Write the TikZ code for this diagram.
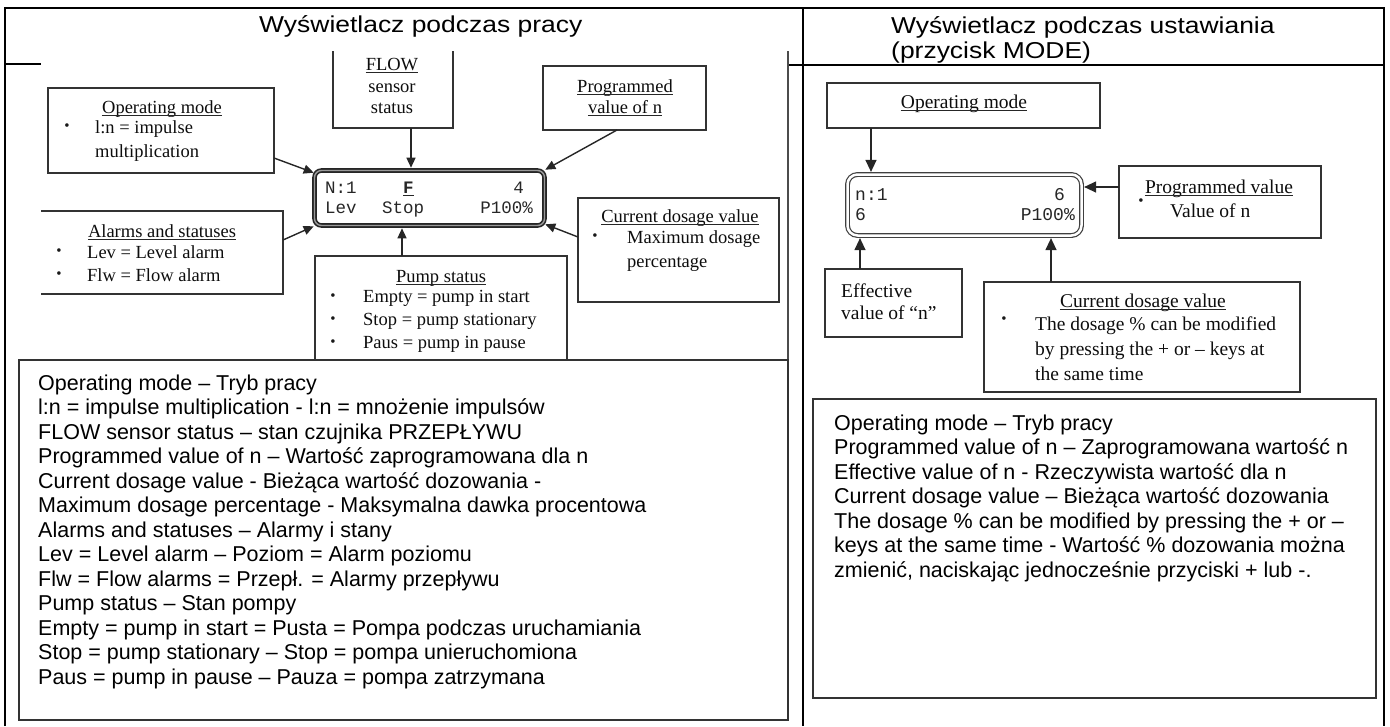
\documentclass[tikz,border=0pt]{standalone}
\usepackage{fontspec}
\setmainfont{Liberation Serif}
\newfontfamily\sansf{Liberation Sans}
\newfontfamily\titlef[FakeStretch=1.15]{Liberation Sans}
\newfontfamily\monof{Liberation Mono}
\usetikzlibrary{arrows.meta,calc}
\begin{document}
\begin{tikzpicture}[x=1pt,y=-1pt,
  frameline/.style={line width=2pt, draw=black},
  thinframe/.style={line width=1.2pt, draw=black!70},
  box/.style={draw=black!80, line width=1.3pt, inner sep=0pt, outer sep=0pt},
  nobox/.style={inner sep=0pt, outer sep=0pt},
  bl/.style={draw=black!80, line width=1.3pt},
  arrL/.style={line width=1.4pt, draw=black!85, -{Triangle[length=10pt,width=9pt]}},
  arrR/.style={line width=1.3pt, draw=black!85, -{Triangle[length=12pt,width=11pt]}},
  lcdl/.style={draw=black!85, line width=1.6pt, double=black!40, double distance=1.4pt, rounded corners=7pt, inner sep=0pt},
  lcdr/.style={draw=black!75, line width=1.2pt, double=white, double distance=2.5pt, rounded corners=10pt, inner sep=0pt},
  sl/.style={inner sep=0pt, anchor=base, font=\fontsize{18.5pt}{22pt}\selectfont, text=black!95},
  slw/.style={sl, anchor=base west},
  sr/.style={sl, font=\fontsize{19.5pt}{23pt}\selectfont},
  srw/.style={sr, anchor=base west},
  bul/.style={inner sep=0pt, anchor=center, font=\fontsize{15pt}{15pt}\selectfont, text=black!90},
  monol/.style={inner sep=0pt, font=\monof\fontsize{17.5pt}{20pt}\selectfont, text=black!85},
  monor/.style={inner sep=0pt, font=\monof\fontsize{18pt}{20pt}\selectfont, text=black!85},
  leg/.style={inner sep=0pt, anchor=base west, font=\sansf\fontsize{21.5pt}{24pt}\selectfont},
  ttl/.style={inner sep=0pt, anchor=base west, font=\titlef\fontsize{23pt}{27pt}\selectfont},
  ulline/.style={line width=1.3pt, draw=black!85}
]
\useasboundingbox (0,0) rectangle (1390,726);

% table frame
\draw[frameline] (5,726) -- (5,8) -- (1384,8) -- (1384,726);
\draw[frameline] (803,8) -- (803,726);
\draw[frameline] (789,65) -- (1384,65);
\draw[frameline] (5,64) -- (41,64);

% titles
\node[ttl] (ttlL) at (259,32) {Wyświetlacz podczas pracy};
\node[ttl] (ttlR1) at (891,33) {Wyświetlacz podczas ustawiania};
\node[ttl] (ttlR2) at (891,58) {(przycisk MODE)};

% ---------------- left diagram ----------------
\node[box, minimum width=226pt, minimum height=85pt] (opmL) at (161,130.5) {};
\node[nobox, minimum width=120pt, minimum height=77pt] (flowL) at (393,89.5) {};
\draw[bl] (flowL.north west) -- (flowL.south west) -- (flowL.south east) -- (flowL.north east);
\node[box, minimum width=163pt, minimum height=64pt] (progL) at (624.5,98) {};
\node[lcdl, minimum width=230pt, minimum height=55pt] (lcdL) at (429.5,198) {};
\node[nobox, minimum width=242pt, minimum height=83pt] (alarmL) at (162,252.5) {};
\draw[bl] (alarmL.north west) -- (alarmL.north east) -- (alarmL.south east) -- (alarmL.south west);
\node[box, minimum width=201pt, minimum height=104pt] (curL) at (678.5,250) {};
\node[nobox, minimum width=252pt, minimum height=104pt] (pumpL) at (441,308) {};
\draw[bl] (pumpL.south west) -- (pumpL.north west) -- (pumpL.north east) -- (pumpL.south east);
\draw[thinframe] (788,51) -- (788,360);
\node[box, fill=white, minimum width=769pt, minimum height=360pt] (legL) at (403.5,540) {};

% texts in left boxes
\node[sl] (uOpL) at (162,113) {Operating mode};
\node[bul] (bOpL) at (67,127) {•};
\node[slw] (tOpL1) at (95,133) {l:n = impulse};
\node[slw] (tOpL2) at (95,157) {multiplication};

\node[sl] (uFlow) at (392,70) {FLOW};
\node[sl] (tFlow1) at (392,92) {sensor};
\node[sl] (tFlow2) at (392,113) {status};

\node[sl] (uProg1) at (625,92) {Programmed};
\node[sl] (uProg2) at (625,113) {value of n};

\node[monol, anchor=base west] (lcdN) at (325,193) {N:1};
\node[monol, anchor=base west] (uF) at (403,193) {\bfseries F};
\node[monol, anchor=base east] (lcd4) at (524,193) {4};
\node[monol, anchor=base west] (lcdLev) at (325,213) {Lev};
\node[monol, anchor=base west] (lcdStop) at (382,213) {Stop};
\node[monol, anchor=base east] (lcdP) at (533,213) {P100\%};

\node[sl] (uAlarm) at (162,237) {Alarms and statuses};
\node[bul] (bAl1) at (59,252) {•};
\node[bul] (bAl2) at (59,275) {•};
\node[slw] (tAl1) at (87,258) {Lev = Level alarm};
\node[slw] (tAl2) at (87,281) {Flw = Flow alarm};

\node[sl] (uCurL) at (680,222) {Current dosage value};
\node[bul] (bCurL) at (595,237) {•};
\node[slw] (tCurL1) at (627,243) {Maximum dosage};
\node[slw] (tCurL2) at (627,267) {percentage};

\node[sl] (uPump) at (441,282) {Pump status};
\node[bul] (bP1) at (333,297) {•};
\node[bul] (bP2) at (333,320) {•};
\node[bul] (bP3) at (333,343) {•};
\node[slw] (tP1) at (363,302) {Empty = pump in start};
\node[slw] (tP2) at (363,325) {Stop = pump stationary};
\node[slw] (tP3) at (363,348) {Paus = pump in pause};

% arrows left
\draw[arrL, shorten >=2pt] ([xshift=18pt]flowL.south) -- ([xshift=18pt]flowL.south |- lcdL.north);
\draw[arrL] ([yshift=-27.5pt]opmL.east) -- ([yshift=-3pt]lcdL.north west);
\draw[arrL] ([xshift=-7.5pt]progL.south) -- (lcdL.north east);
\draw[arrL] ([yshift=12.5pt]alarmL.east) -- (lcdL.south west);
\draw[arrL] ([yshift=13pt]curL.west) -- ([yshift=2pt]lcdL.south east);
\draw[arrL, shorten >=2pt] ([xshift=-39pt]pumpL.north) -- ([xshift=-39pt]pumpL.north |- lcdL.south);

% legend left
\foreach \t [count=\i] in {
  {Operating mode – Tryb pracy},
  {l:n = impulse multiplication - l:n = mnożenie impulsów},
  {FLOW sensor status – stan czujnika PRZEPŁYWU},
  {Programmed value of n – Wartość zaprogramowana dla n},
  {Current dosage value - Bieżąca wartość dozowania -},
  {Maximum dosage percentage - Maksymalna dawka procentowa},
  {Alarms and statuses – Alarmy i stany},
  {Lev = Level alarm – Poziom = Alarm poziomu},
  {Flw = Flow alarms = Przepł. = Alarmy przepływu},
  {Pump status – Stan pompy},
  {Empty = pump in start = Pusta = Pompa podczas uruchamiania},
  {Stop = pump stationary – Stop = pompa unieruchomiona},
  {Paus = pump in pause – Pauza = pompa zatrzymana}}
  \node[leg] (lL\i) at (38,{365.5+24.5*\i}) {\t};

% ---------------- right diagram ----------------
\node[box, minimum width=273pt, minimum height=45pt] (opmR) at (963.5,105.5) {};
\node[lcdr, minimum width=234pt, minimum height=61pt] (lcdR) at (964.5,205) {};
\node[box, minimum width=202pt, minimum height=72pt] (progR) at (1220,202) {};
\node[box, minimum width=137pt, minimum height=68pt] (effR) at (893.5,303) {};
\node[box, minimum width=316pt, minimum height=110pt] (curR) at (1142,337) {};
\node[box, minimum width=563pt, minimum height=299pt] (legR) at (1094.5,548.5) {};

\node[sr] (uOpR) at (964,108) {Operating mode};

\node[monor, anchor=base west] (rN) at (855,200) {n:1};
\node[monor, anchor=base east] (r6a) at (1065,200) {6};
\node[monor, anchor=base west] (r6b) at (855,220) {6};
\node[monor, anchor=base east] (rP) at (1075,220) {P100\%};

\node[sr] (uProgR) at (1219,193) {Programmed value};
\node[bul] (bProgR) at (1141,202) {•};
\node[srw] (tProgR) at (1170,217) {Value of n};

\node[srw] (tEff1) at (841,297) {Effective};
\node[srw] (tEff2) at (841,319) {value of “n”};

\node[sr] (uCurR) at (1143,307) {Current dosage value};
\node[bul] (bCurR) at (1004,320) {•};
\node[srw] (tCurR1) at (1035,330) {The dosage \% can be modified};
\node[srw] (tCurR2) at (1035,355) {by pressing the + or – keys at};
\node[srw] (tCurR3) at (1035,380) {the same time};

% arrows right
\draw[arrR, shorten >=2pt] ([xshift=-92.5pt]opmR.south) -- ([xshift=-92.5pt]opmR.south |- lcdR.north);
\draw[arrR, shorten >=2pt] ([yshift=15pt]progR.west) -- ([yshift=15pt]progR.west -| lcdR.east);
\draw[arrR, shorten >=2pt] ([xshift=-33.5pt]effR.north) -- ([xshift=-33.5pt]effR.north |- lcdR.south);
\draw[arrR, shorten >=2pt] ([xshift=-91pt]curR.north) -- ([xshift=-91pt]curR.north |- lcdR.south);

% legend right
\foreach \t [count=\i] in {
  {Operating mode – Tryb pracy},
  {Programmed value of n – Zaprogramowana wartość n},
  {Effective value of n - Rzeczywista wartość dla n},
  {Current dosage value – Bieżąca wartość dozowania},
  {The dosage \% can be modified by pressing the + or –},
  {keys at the same time - Wartość \% dozowania można},
  {zmienić, naciskając jednocześnie przyciski + lub -.}}
  \node[leg] (lR\i) at (834,{405.5+24.5*\i}) {\t};

% underlines
\foreach \n in {uOpL,uFlow,uProg1,uProg2,uAlarm,uCurL,uPump,uOpR,uProgR,uCurR}
  \draw[ulline] ([yshift=-2.5pt]\n.base west) -- ([yshift=-2.5pt]\n.base east);
\draw[line width=1pt, draw=black!85] ([yshift=-2.5pt]uF.base west) -- ([yshift=-2.5pt]uF.base east);
\end{tikzpicture}
\end{document}
